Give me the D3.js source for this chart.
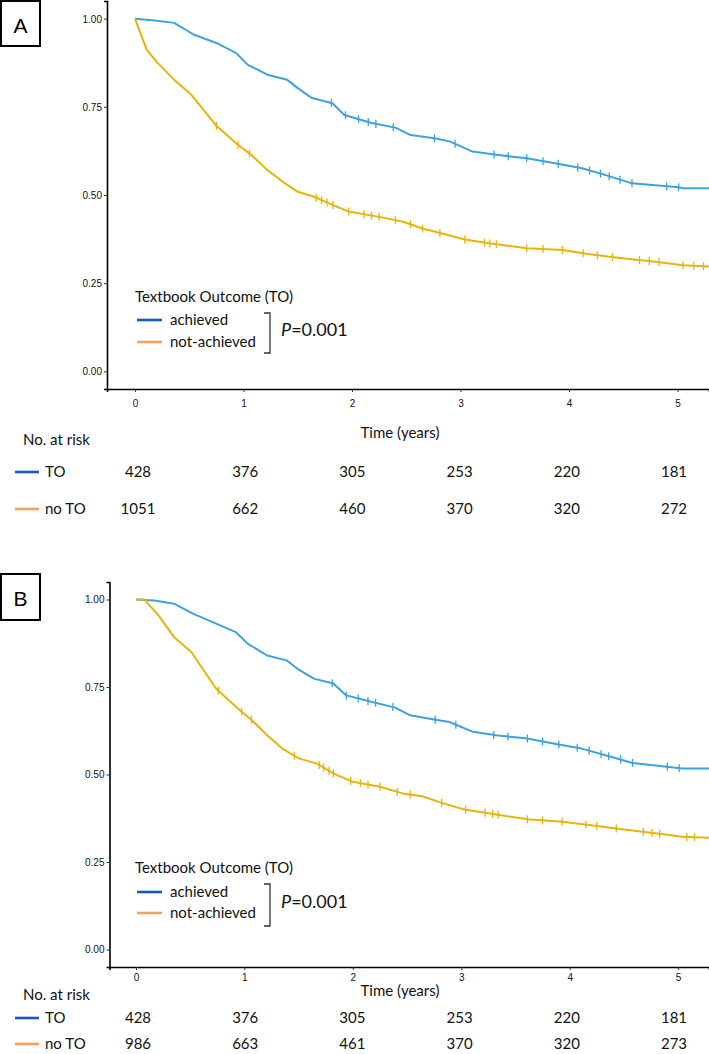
<!DOCTYPE html>
<html><head><meta charset="utf-8">
<script src="https://cdn.jsdelivr.net/npm/d3@7"></script>
<style>body{margin:0;background:#fff}svg{display:block}</style>
</head><body><svg id="chart" width="709" height="1054"></svg>
<script>
// ---------- data ----------
const years = [0, 1, 2, 3, 4, 5];
const yTickValues = [0, 0.25, 0.5, 0.75, 1];
const groupLabels = ["TO", "no TO"];
const legendLabels = ["achieved", "not-achieved"];
const legendTitle = "Textbook Outcome (TO)";
const pValue = "0.001";
const panelLabels = ["A", "B"];

// Panel A – TO achieved
const timeA_TO = [0,0.18,0.36,0.54,0.75,0.93,1.04,1.22,1.40,1.50,1.63,1.82,1.93,2.18,2.40,2.54,2.76,2.90,3.11,3.33,3.61,3.87,4.12,4.33,4.58,5.01,5.05,5.29];
const survA_TO = [1,0.995,0.988,0.955,0.931,0.903,0.869,0.841,0.827,0.803,0.775,0.760,0.727,0.704,0.691,0.670,0.661,0.652,0.623,0.614,0.604,0.590,0.576,0.557,0.533,0.522,0.519,0.519];
const censorA_TO = [1.81,1.94,2.06,2.15,2.22,2.38,2.76,2.95,3.31,3.44,3.61,3.76,3.90,4.08,4.19,4.29,4.37,4.47,4.58,4.90,5.01];
// Panel A – TO not achieved
const timeA_noTO = [0,0.107,0.21,0.36,0.52,0.75,0.95,1.07,1.22,1.36,1.50,1.65,1.82,1.97,2.25,2.47,2.65,2.83,3.04,3.26,3.61,3.94,4.19,4.51,4.80,5.05,5.29];
const survA_noTO = [1,0.912,0.874,0.827,0.784,0.696,0.642,0.614,0.571,0.538,0.509,0.495,0.472,0.453,0.438,0.424,0.405,0.391,0.374,0.363,0.349,0.344,0.332,0.320,0.311,0.301,0.297];
const censorA_noTO = [0.75,0.95,1.055,1.67,1.72,1.77,1.825,1.97,2.11,2.18,2.25,2.40,2.54,2.65,2.81,3.04,3.22,3.27,3.33,3.61,3.76,3.94,4.13,4.26,4.40,4.65,4.74,4.83,5.05,5.15,5.24];

// Panel B – TO achieved
const timeB_TO = [0,0.17,0.35,0.53,0.74,0.92,1.03,1.21,1.39,1.49,1.64,1.82,1.94,2.18,2.39,2.53,2.75,2.89,3.11,3.32,3.61,3.86,4.11,4.33,4.58,5.04,5.29];
const survB_TO = [1,0.997,0.988,0.959,0.931,0.907,0.874,0.840,0.826,0.802,0.774,0.760,0.726,0.707,0.691,0.669,0.657,0.650,0.622,0.612,0.603,0.588,0.574,0.555,0.533,0.517,0.517];
const censorB_TO = [1.81,1.94,2.05,2.14,2.21,2.37,2.76,2.95,3.30,3.43,3.61,3.75,3.90,4.07,4.18,4.29,4.36,4.47,4.58,4.90,5.01];
// Panel B – TO not achieved
const timeB_noTO = [0,0.09,0.10,0.21,0.35,0.51,0.74,0.96,1.07,1.21,1.35,1.50,1.67,1.82,2.00,2.25,2.46,2.64,2.82,3.03,3.25,3.61,3.93,4.18,4.50,4.79,5.04,5.29];
const survB_noTO = [1,1,0.992,0.954,0.893,0.850,0.745,0.683,0.655,0.612,0.574,0.546,0.531,0.503,0.479,0.465,0.446,0.438,0.419,0.400,0.389,0.372,0.365,0.356,0.343,0.332,0.322,0.319];
const censorB_noTO = [0.76,0.975,1.065,1.46,1.69,1.73,1.78,1.82,1.98,2.07,2.14,2.25,2.41,2.53,2.82,3.04,3.22,3.29,3.34,3.61,3.75,3.93,4.15,4.25,4.43,4.68,4.76,4.83,5.08,5.15];

// Numbers at risk
const riskA_TO = [428, 376, 305, 253, 220, 181];
const riskA_noTO = [1051, 662, 460, 370, 320, 272];
const riskB_TO = [428, 376, 305, 253, 220, 181];
const riskB_noTO = [986, 663, 461, 370, 320, 273];

// ---------- styles ----------
const curveColors = ["#3ea2dd", "#e5b50e"];
const keyColors = ["#1856c2", "#f4a25a"];
const textFont = "Lato, 'Open Sans', sans-serif";
const tickFont = "'Liberation Sans Narrow', 'Liberation Sans', Arial, sans-serif";

const svg = d3.select("#chart");
svg.append("rect").attr("width", 709).attr("height", 1054).attr("fill", "#fff");

const panels = [
  { label: panelLabels[0], box: [1, 1, 39, 45], labelY: 33,
    xDomain: [-0.258, 5.29], xRange: [107, 709], yRange: [389, 1],
    series: [[timeA_TO, survA_TO, censorA_TO], [timeA_noTO, survA_noTO, censorA_noTO]],
    legendTitleY: 302, legendRows: [325, 347], bracket: [313, 353], pY: 336,
    xTickLabelY: 407, xTitleY: 438,
    riskTitleY: 445, riskRows: [477, 514], risk: [riskA_TO, riskA_noTO] },
  { label: panelLabels[1], box: [1, 574, 39, 46], labelY: 606,
    xDomain: [-0.244, 5.285], xRange: [109.5, 709], yRange: [967, 582],
    series: [[timeB_TO, survB_TO, censorB_TO], [timeB_noTO, survB_noTO, censorB_noTO]],
    legendTitleY: 873, legendRows: [897, 918], bracket: [884, 926], pY: 908,
    xTickLabelY: 981, xTitleY: 996,
    riskTitleY: 1000, riskRows: [1023, 1049], risk: [riskB_TO, riskB_noTO] }
];

panels.forEach(p => {
  const g = svg.append("g");
  // panel label box
  g.append("rect").attr("x", p.box[0]).attr("y", p.box[1]).attr("width", p.box[2]).attr("height", p.box[3])
    .attr("fill", "none").attr("stroke", "#000").attr("stroke-width", 2);
  g.append("text").attr("x", 20.5).attr("y", p.labelY).attr("text-anchor", "middle")
    .attr("font-family", "'Liberation Sans', Arial, sans-serif").attr("font-size", 21).text(p.label);

  const x = d3.scaleLinear().domain(p.xDomain).range(p.xRange);
  const y = d3.scaleLinear().domain([-0.05, 1.05]).range(p.yRange);

  // axes
  const yAxis = g.append("g").attr("transform", `translate(${p.xRange[0]},0)`)
    .call(d3.axisLeft(y).tickValues(yTickValues).tickFormat(d3.format(".2f")).tickSize(3).tickPadding(2));
  const xAxis = g.append("g").attr("transform", `translate(0,${p.yRange[0]})`)
    .call(d3.axisBottom(x).tickValues(years).tickFormat(d3.format("d")).tickSize(3).tickPadding(3));
  [yAxis, xAxis].forEach(a => {
    a.select(".domain").attr("stroke", "#000").attr("stroke-width", 1.6);
    a.selectAll(".tick line").attr("stroke", "#333").attr("stroke-width", 1);
    a.selectAll(".tick text").attr("font-family", tickFont).attr("font-size", 10).attr("fill", "#111");
  });
  yAxis.selectAll(".tick text").attr("dy", "0.34em");
  xAxis.selectAll(".tick text").attr("dy", null).attr("y", p.xTickLabelY - p.yRange[0]);

  g.append("text").attr("x", 400).attr("y", p.xTitleY).attr("text-anchor", "middle")
    .attr("font-family", textFont).attr("font-size", 15).attr("fill", "#111").text("Time (years)");

  // curves
  const clipId = "clip" + p.label;
  svg.append("clipPath").attr("id", clipId).append("rect")
    .attr("x", p.xRange[0]).attr("y", p.yRange[1]).attr("width", p.xRange[1] - p.xRange[0])
    .attr("height", p.yRange[0] - p.yRange[1]);
  const plot = g.append("g").attr("clip-path", `url(#${clipId})`);
  p.series.forEach(([times, surv, censor], i) => {
    const pts = times.map((t, k) => [t, surv[k]]);
    plot.append("path").datum(pts)
      .attr("fill", "none").attr("stroke", curveColors[i]).attr("stroke-width", 2)
      .attr("stroke-linejoin", "round")
      .attr("d", d3.line().x(d => x(d[0])).y(d => y(d[1])));
    const interp = t => {
      const k = Math.max(0, d3.bisectRight(times, t) - 1);
      if (k >= times.length - 1) return surv[surv.length - 1];
      const f = (t - times[k]) / (times[k + 1] - times[k]);
      return surv[k] + f * (surv[k + 1] - surv[k]);
    };
    plot.selectAll(null).data(censor).enter().append("line")
      .attr("x1", d => x(d)).attr("x2", d => x(d))
      .attr("y1", d => y(interp(d)) - 4).attr("y2", d => y(interp(d)) + 4)
      .attr("stroke", curveColors[i]).attr("stroke-width", 1.3);
  });

  // legend
  g.append("text").attr("x", 135).attr("y", p.legendTitleY)
    .attr("font-family", textFont).attr("font-size", 15).attr("fill", "#111").text(legendTitle);
  legendLabels.forEach((lab, i) => {
    const ly = p.legendRows[i];
    g.append("line").attr("x1", 137).attr("x2", 162).attr("y1", ly - 5).attr("y2", ly - 5)
      .attr("stroke", keyColors[i]).attr("stroke-width", 2.6);
    g.append("text").attr("x", 170).attr("y", ly)
      .attr("font-family", textFont).attr("font-size", 15).attr("fill", "#111").text(lab);
  });
  g.append("path")
    .attr("d", `M264,${p.bracket[0]}H270V${p.bracket[1]}H264`)
    .attr("fill", "none").attr("stroke", "#333").attr("stroke-width", 1.3);
  const pt = g.append("text").attr("x", 281).attr("y", p.pY)
    .attr("font-family", textFont).attr("font-size", 18).attr("fill", "#111");
  pt.append("tspan").attr("font-style", "italic").text("P");
  pt.append("tspan").text("=" + pValue);

  // risk table
  const rx = d3.scaleLinear().domain([0, 5]).range([138, 674]);
  g.append("text").attr("x", 23).attr("y", p.riskTitleY)
    .attr("font-family", textFont).attr("font-size", 15).attr("fill", "#111").text("No. at risk");
  groupLabels.forEach((lab, i) => {
    const ry = p.riskRows[i];
    g.append("line").attr("x1", 15).attr("x2", 39).attr("y1", ry - 5).attr("y2", ry - 5)
      .attr("stroke", keyColors[i]).attr("stroke-width", 2.6);
    g.append("text").attr("x", 45).attr("y", ry)
      .attr("font-family", textFont).attr("font-size", 15).attr("fill", "#111").text(lab);
    g.selectAll(null).data(p.risk[i]).enter().append("text")
      .attr("x", (d, k) => rx(years[k])).attr("y", ry).attr("text-anchor", "middle")
      .attr("font-family", textFont).attr("font-size", 15).attr("fill", "#111").text(d => d);
  });
});
</script></body></html>
